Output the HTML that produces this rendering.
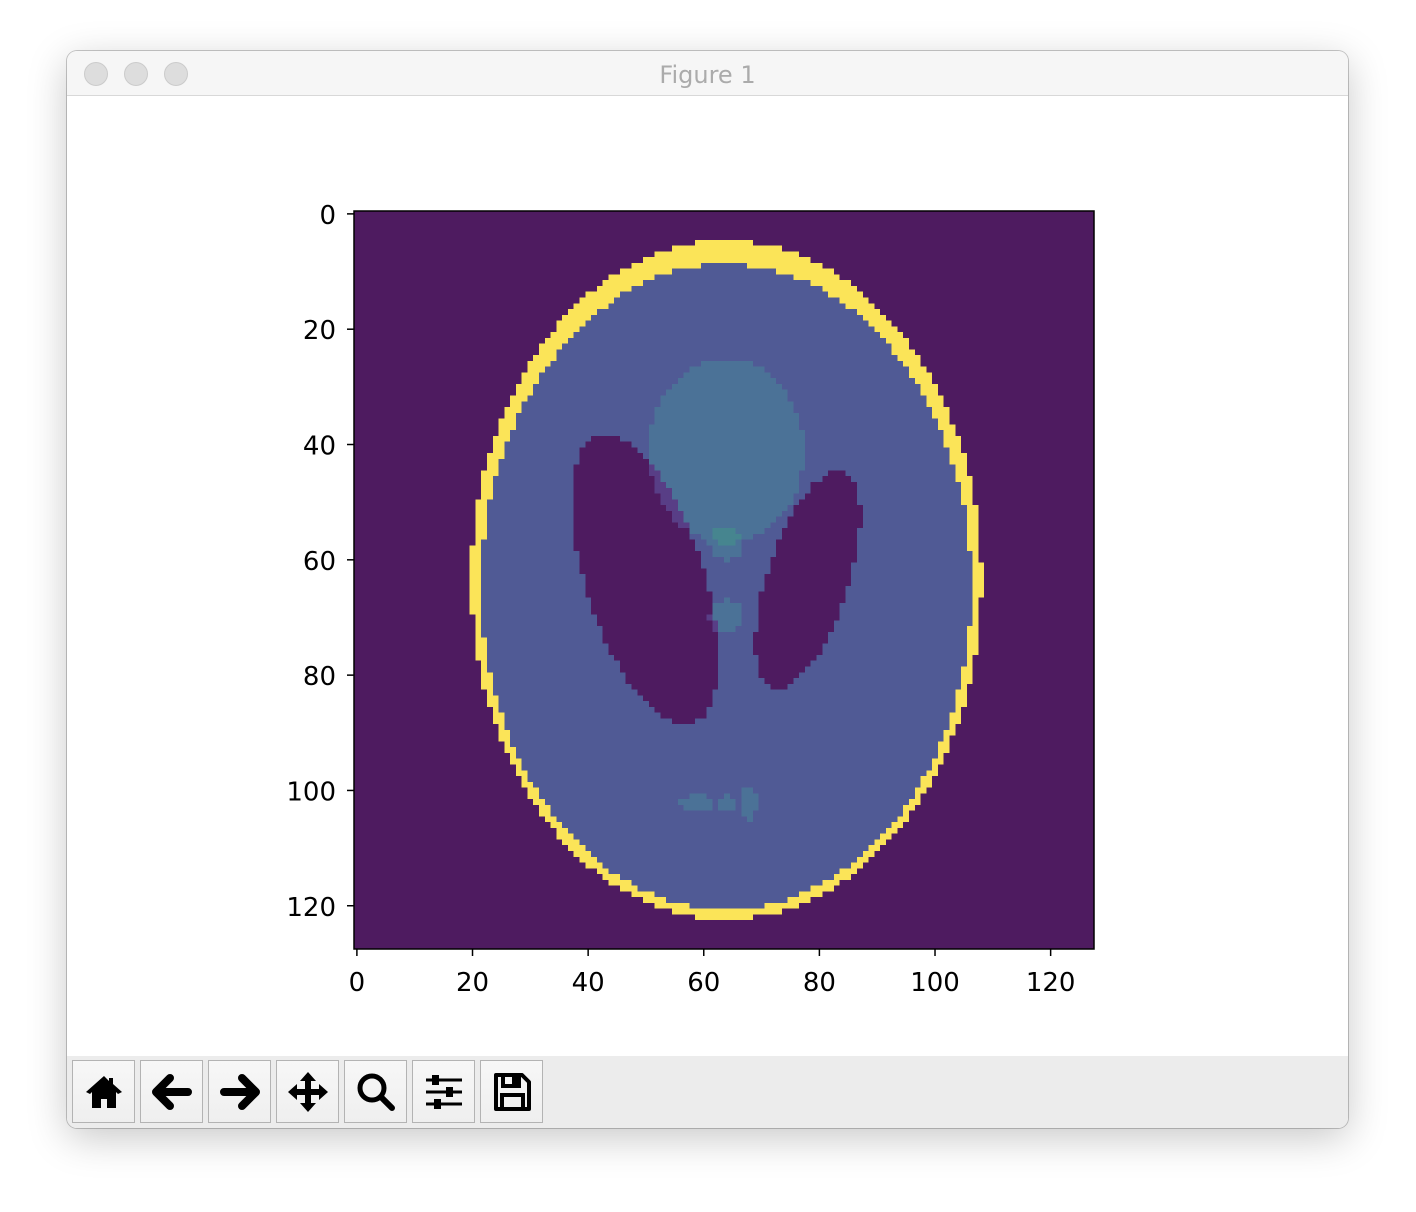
<!DOCTYPE html>
<html><head><meta charset="utf-8">
<style>
body{margin:0;width:1416px;height:1212px;background:#fff;position:relative;overflow:hidden;font-family:"Liberation Sans","DejaVu Sans",sans-serif;}
#win{position:absolute;left:67px;top:51px;width:1281px;height:1077px;border-radius:10px;background:#fff;box-shadow:0 10px 40px rgba(0,0,0,0.22),0 0 0 1px #c9c9c9;overflow:hidden;}
#titlebar{position:absolute;left:0;top:0;width:100%;height:44px;background:#f6f6f6;border-bottom:1px solid #d8d8d8;}
.light{position:absolute;top:11px;width:22px;height:22px;border-radius:50%;background:#dddddd;border:1px solid #cbcbcb;}
#title{position:absolute;left:0;width:100%;top:10px;text-align:center;color:#ababab;font-size:24px;font-family:"DejaVu Sans","Liberation Sans",sans-serif;}
#toolbar{position:absolute;left:0;top:1005px;width:100%;height:72px;background:#ececec;}
.btn{position:absolute;top:4px;width:63px;height:63px;box-sizing:border-box;border:1px solid #b3b3b3;background:linear-gradient(#f7f7f7,#efefef);}
.btn svg{position:absolute;left:9px;top:9px;}
#cv{position:absolute;left:354px;top:211px;width:740px;height:738px;image-rendering:pixelated;}
#axes{position:absolute;left:0;top:0;}
</style></head><body>
<div id="win">
 <div id="titlebar">
  <div class="light" style="left:17px"></div>
  <div class="light" style="left:57px"></div>
  <div class="light" style="left:97px"></div>
  <div id="title">Figure 1</div>
 </div>
 <div id="toolbar">
  <div class="btn" style="left:5px"><svg width="44" height="44" viewBox="0 0 44 44"><path d="M22 6 L4 22 L8 24 L10 22 L10 38 L19 38 L19 29 L25 29 L25 38 L34 38 L34 22 L36 24 L40 22 L31 14 L31 8 L27 8 L27 11 Z" fill="#000"/></svg></div>
  <div class="btn" style="left:73px"><svg width="44" height="44" viewBox="0 0 44 44"><path d="M20 8 L6 22 L20 36 M8 22 L38 22" stroke="#000" stroke-width="8" stroke-linecap="round" stroke-linejoin="round" fill="none"/></svg></div>
  <div class="btn" style="left:141px"><svg width="44" height="44" viewBox="0 0 44 44"><path d="M24 8 L38 22 L24 36 M36 22 L6 22" stroke="#000" stroke-width="8" stroke-linecap="round" stroke-linejoin="round" fill="none"/></svg></div>
  <div class="btn" style="left:209px"><svg width="44" height="44" viewBox="0 0 44 44"><path d="M22 2 L30 11 L14 11 Z M22 42 L30 33 L14 33 Z M2 22 L11 14 L11 30 Z M42 22 L33 14 L33 30 Z" fill="#000"/><path d="M22 8 V36 M8 22 H36" stroke="#000" stroke-width="6"/></svg></div>
  <div class="btn" style="left:277px"><svg width="44" height="44" viewBox="0 0 44 44"><circle cx="18" cy="18" r="12" stroke="#000" stroke-width="5" fill="none"/><path d="M27 27 L38 38" stroke="#000" stroke-width="6" stroke-linecap="round"/></svg></div>
  <div class="btn" style="left:345px"><svg width="44" height="44" viewBox="0 0 44 44"><path d="M4 10 H40 M4 22 H40 M4 34 H40" stroke="#000" stroke-width="3"/><rect x="10" y="5" width="7" height="10" fill="#000"/><rect x="24" y="17" width="7" height="10" fill="#000"/><rect x="12" y="29" width="7" height="10" fill="#000"/></svg></div>
  <div class="btn" style="left:413px"><svg width="44" height="44" viewBox="0 0 44 44"><path d="M6 5 H32 L39 12 V39 H6 Z" stroke="#000" stroke-width="4" fill="none" stroke-linejoin="round"/><path d="M13 5 V16 H29 V5" stroke="#000" stroke-width="4" fill="none"/><rect x="22" y="7" width="5" height="7" fill="#000"/><rect x="12" y="25" width="21" height="14" stroke="#000" stroke-width="4" fill="none"/></svg></div>
 </div>
</div>
<canvas id="cv" width="128" height="128"></canvas>
<svg id="axes" width="1416" height="1212"></svg>
<script>
// Shepp-Logan (modified) ellipse data
const intensities=[1,-0.8,-0.2,-0.2,0.1,0.1,0.1,0.1,0.1,0.1];
const semiA=[0.69,0.6624,0.11,0.16,0.21,0.046,0.046,0.046,0.023,0.023];
const semiB=[0.92,0.874,0.31,0.41,0.25,0.046,0.046,0.023,0.023,0.046];
const centerX=[0,0,0.22,-0.22,0,0,0,-0.08,0,0.06];
const centerY=[0,-0.0184,0,0,0.35,0.1,-0.1,-0.605,-0.606,-0.605];
const angles=[0,0,-18,18,0,0,0,0,0,0];
const xTicks=[0,20,40,60,80,100,120];
const yTicks=[0,20,40,60,80,100,120];
const N=128;
const px0=354,py0=211,pw=740,ph=738;
function xs(c){return px0+(c+0.5)*pw/N;}
function ys(r){return py0+(r+0.5)*ph/N;}
function colorFor(v){
  const stops=[[0,[78,27,96]],[0.1,[88,62,134]],[0.2,[80,90,149]],[0.3,[75,114,151]],[0.4,[70,133,143]],[0.7,[60,170,120]],[1,[251,228,88]]];
  v=Math.max(0,Math.min(1,v));
  for(let i=1;i<stops.length;i++){if(v<=stops[i][0]+1e-9){const[a,ca]=stops[i-1],[b,cb]=stops[i];const t=(v-a)/(b-a);return 'rgb('+ca.map((x,k)=>Math.round(x+(cb[k]-x)*t)).join(',')+')';}}
  return 'rgb(251,228,88)';
}
const ctx=document.getElementById('cv').getContext('2d');
for(let r=0;r<N;r++)for(let c=0;c<N;c++){
  const x=-1+(2*c+0.2)/N,y=1-(2*r+1)/N;let v=0;
  for(let e=0;e<intensities.length;e++){
    const th=angles[e]*Math.PI/180,dx=x-centerX[e],dy=y-centerY[e];
    const xr=dx*Math.cos(th)+dy*Math.sin(th),yr=-dx*Math.sin(th)+dy*Math.cos(th);
    if((xr/semiA[e])**2+(yr/semiB[e])**2<=1)v+=intensities[e];
  }
  ctx.fillStyle=colorFor(Math.round(v*100)/100);ctx.fillRect(c,r,1,1);
}
const svg=document.getElementById('axes');const NS='http://www.w3.org/2000/svg';
function mk(t,a){const el=document.createElementNS(NS,t);for(const k in a)el.setAttribute(k,a[k]);svg.appendChild(el);return el;}
const frame=mk('rect',{x:px0,y:py0,width:pw,height:ph,fill:'none',stroke:'#000','stroke-width':1.5});


xTicks.forEach(t=>{
  const l=mk('line',{x1:xs(t),x2:xs(t),y1:py0+ph,y2:py0+ph+7,stroke:'#000','stroke-width':1.5});
  
  
  const tx=mk('text',{x:xs(t),y:py0+ph+42,'text-anchor':'middle','font-size':26,'font-family':'DejaVu Sans, Liberation Sans, sans-serif'});tx.textContent=t;
  
  
});
yTicks.forEach(t=>{
  const l=mk('line',{x1:px0-7,x2:px0,y1:ys(t),y2:ys(t),stroke:'#000','stroke-width':1.5});
  
  
  const tx=mk('text',{x:px0-18,y:ys(t)+10,'text-anchor':'end','font-size':26,'font-family':'DejaVu Sans, Liberation Sans, sans-serif'});tx.textContent=t;
  
  
});
</script>
</body></html>
